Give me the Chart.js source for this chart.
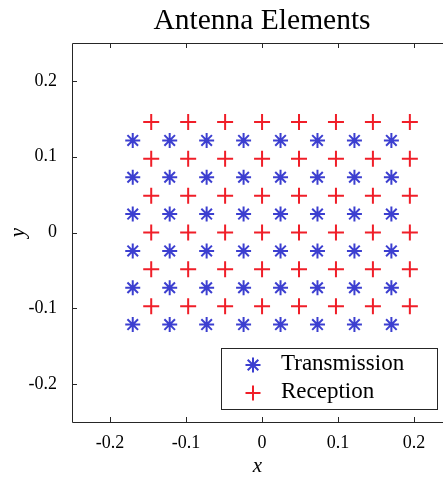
<!DOCTYPE html>
<html>
<head>
<meta charset="utf-8">
<script src="https://cdn.jsdelivr.net/npm/chart.js@4.4.1/dist/chart.umd.min.js"></script>
<style>
  body { margin: 0; background: #fff; }
  #wrap { width: 443px; height: 477px; }
</style>
</head>
<body>
<div id="wrap"><canvas id="antenna" width="443" height="477"></canvas></div>
<script>
// element positions
const txX = [-0.1701, -0.1215, -0.0729, -0.0243, 0.0243, 0.0729, 0.1215, 0.1701];
const txY = [0.1215, 0.0729, 0.0243, -0.0243, -0.0729, -0.1215];
const rxX = [-0.1458, -0.0972, -0.0486, 0, 0.0486, 0.0972, 0.1458, 0.1944];
const rxY = [0.1458, 0.0972, 0.0486, 0, -0.0486, -0.0972];

const xTicks = [-0.2, -0.1, 0, 0.1, 0.2];
const xTickLabels = ["-0.2", "-0.1", "0", "0.1", "0.2"];
const yTicks = [-0.2, -0.1, 0, 0.1, 0.2];
const yTickLabels = ["-0.2", "-0.1", "0", "0.1", "0.2"];

const seriesNames = ["Transmission", "Reception"];
const txColor = "#3c3fd0";
const rxColor = "#f01e28";
const axisColor = "#262626";

function grid(xs, ys) {
  const pts = [];
  ys.forEach(function (yv) {
    xs.forEach(function (xv) {
      pts.push({ x: xv, y: yv });
    });
  });
  return pts;
}

Chart.defaults.font.family = "'Liberation Serif', serif";
Chart.defaults.color = "#000";

const framePlugin = {
  id: "frame",
  afterDraw(chart) {
    const ctx = chart.ctx;
    const a = chart.chartArea;
    const xs = chart.scales.x;
    const ys = chart.scales.y;
    ctx.save();
    ctx.strokeStyle = axisColor;
    ctx.lineWidth = 1;
    ctx.beginPath();
    ctx.moveTo(a.right, Math.round(a.top) + 0.5);
    ctx.lineTo(Math.round(a.left) + 0.5, Math.round(a.top) + 0.5);
    ctx.lineTo(Math.round(a.left) + 0.5, Math.round(a.bottom) + 0.5);
    ctx.lineTo(a.right, Math.round(a.bottom) + 0.5);
    ctx.stroke();

    // inward ticks
    ctx.beginPath();
    xTicks.forEach(function (v) {
      const px = Math.round(xs.getPixelForValue(v)) + 0.5;
      ctx.moveTo(px, a.bottom);
      ctx.lineTo(px, a.bottom - 5);
      ctx.moveTo(px, a.top);
      ctx.lineTo(px, a.top + 5);
    });
    yTicks.forEach(function (v) {
      const py = Math.round(ys.getPixelForValue(v)) + 0.5;
      ctx.moveTo(a.left, py);
      ctx.lineTo(a.left + 5, py);
    });
    ctx.stroke();

    // title, centred over x = 0
    ctx.fillStyle = "#000";
    ctx.font = "29.5px 'Liberation Serif'";
    ctx.textAlign = "center";
    ctx.textBaseline = "alphabetic";
    ctx.fillText("Antenna Elements", xs.getPixelForValue(0), 29);

    // legend box
    const bx = 221.5, by = 348.5, bw = 216, bh = 61;
    ctx.fillStyle = "#fff";
    ctx.fillRect(bx, by, bw, bh);
    ctx.strokeStyle = axisColor;
    ctx.strokeRect(bx, by, bw, bh);

    const mx = 253, r = 7.5;
    const rows = [365, 393];
    ctx.lineWidth = 2;
    // star marker
    ctx.strokeStyle = txColor;
    ctx.beginPath();
    for (let k = 0; k < 4; k++) {
      const ang = k * Math.PI / 4;
      ctx.moveTo(mx - Math.cos(ang) * r, rows[0] - Math.sin(ang) * r);
      ctx.lineTo(mx + Math.cos(ang) * r, rows[0] + Math.sin(ang) * r);
    }
    ctx.stroke();
    // plus marker
    ctx.strokeStyle = rxColor;
    ctx.beginPath();
    ctx.moveTo(mx - r, rows[1]);
    ctx.lineTo(mx + r, rows[1]);
    ctx.moveTo(mx, rows[1] - r);
    ctx.lineTo(mx, rows[1] + r);
    ctx.stroke();

    ctx.fillStyle = "#000";
    ctx.font = "23px 'Liberation Serif'";
    ctx.textAlign = "left";
    ctx.fillText(seriesNames[0], 281, 370);
    ctx.fillText(seriesNames[1], 281, 398);
    ctx.restore();
  }
};

const antenna = document.getElementById("antenna").getContext("2d");

const antennaChart = new Chart(antenna, {
  type: "scatter",
  data: {
    datasets: [
      {
        label: seriesNames[0],
        data: grid(txX, txY),
        pointStyle: "star",
        pointRadius: 7.5,
        pointHoverRadius: 7.5,
        pointBorderWidth: 2,
        borderColor: txColor,
        backgroundColor: txColor,
      },
      {
        label: seriesNames[1],
        data: grid(rxX, rxY),
        pointStyle: "cross",
        pointRadius: 8,
        pointHoverRadius: 8,
        pointBorderWidth: 2,
        borderColor: rxColor,
        backgroundColor: rxColor,
      },
    ],
  },
  options: {
    responsive: false,
    animation: false,
    events: [],
    layout: {
      autoPadding: false,
      padding: { top: 43, right: 0, left: 0, bottom: 0 },
    },
    plugins: {
      legend: { display: false },
      title: { display: false },
      tooltip: { enabled: false },
    },
    scales: {
      x: {
        type: "linear",
        bounds: "data",
        min: -0.25,
        max: 0.238,
        afterBuildTicks: function (scale) {
          scale.ticks = xTicks.map(function (v) { return { value: v }; });
        },
        afterFit: function (scale) {
          scale.height = 55;
          scale.paddingLeft = 0;
          scale.paddingRight = 0;
        },
        ticks: {
          padding: 2,
          font: { size: 18 },
          color: "#000",
          callback: function (value, index) {
            return xTickLabels[index];
          },
        },
        grid: { display: false },
        border: { display: false },
        title: {
          display: true,
          text: "x",
          font: { size: 21, style: "italic", lineHeight: 1 },
          padding: 0,
        },
      },
      y: {
        type: "linear",
        bounds: "data",
        min: -0.25,
        max: 0.25,
        afterBuildTicks: function (scale) {
          scale.ticks = yTicks.map(function (v) { return { value: v }; });
        },
        afterFit: function (scale) {
          scale.width = 72;
        },
        ticks: {
          padding: 7,
          font: { size: 18 },
          color: "#000",
          callback: function (value, index) {
            return yTickLabels[index];
          },
        },
        grid: { display: false },
        border: { display: false },
        title: {
          display: true,
          text: "y",
          font: { size: 21, style: "italic" },
          padding: { top: 6, bottom: 0 },
        },
      },
    },
  },
  plugins: [framePlugin],
});
</script>
</body>
</html>
